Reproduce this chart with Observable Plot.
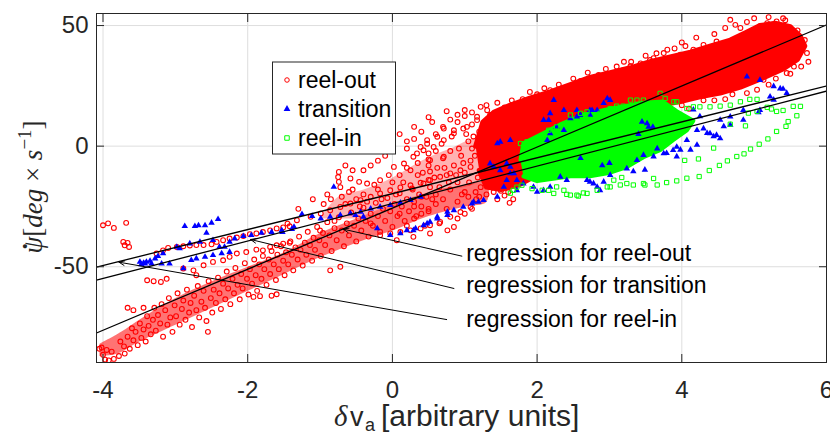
<!DOCTYPE html>
<html><head><meta charset="utf-8">
<script src="https://cdn.jsdelivr.net/npm/d3@7"></script>
<script src="https://cdn.jsdelivr.net/npm/@observablehq/plot@0.6"></script>
<style>body{margin:0;background:#fff}</style>
</head><body><div id="chart"></div><script>
// ---- axis ticks
const xTicks = [-4, -2, 0, 2, 4, 6];
const yTicks = [-50, 0, 50];
const xDomain = [-4.09, 6];
const yDomain = [-89.7, 55];

// ---- series names
const seriesNames = ["reel-out", "transition", "reel-in"];

// ---- reel-out (red circles) scattered points [x, y]
const reelOutPts = [
[-4.05,-84],[-4.0,-86.5],[-3.97,-88.5],[-3.92,-88.8],[-3.85,-88.2],[-3.78,-87],[-3.7,-86],[-3.95,-84.5],[-3.88,-85.2],[-4.02,-83.5],
[-3.76,-81],[-3.71,-83],[-3.66,-79],[-3.63,-84],[-3.6,-75.5],[-3.58,-80.5],[-3.55,-77],[-3.52,-82.5],[-3.49,-73.5],[-3.47,-79.5],[-3.44,-76],[-3.41,-81],[-3.39,-70.5],[-3.37,-74.5],[-3.34,-78],[-3.31,-72],[-3.29,-67],[-3.27,-76.5],[-3.24,-70],[-3.21,-73.5],[-3.19,-65.5],[-3.17,-79],[-3.14,-68],[-3.11,-74],[-3.09,-63],[-3.07,-71],[-3.04,-77],[-3.01,-66],[-2.99,-70.5],[-2.97,-61],[-2.94,-74],[-2.91,-67.5],[-2.89,-64],[-2.86,-72],[-2.84,-59.5],[-2.81,-69],[-2.79,-65],[-2.77,-75],[-2.74,-62],[-2.71,-68],[-2.69,-58],[-2.67,-71],[-2.64,-64.5],[-2.61,-60],[-2.59,-67],[-2.57,-72.5],[-2.54,-56],[-2.51,-63],[-2.49,-69],[-2.47,-59.5],[-2.44,-65],[-2.41,-54.5],[-2.39,-61],[-2.37,-67.5],[-2.34,-57],[-2.31,-63.5],[-2.29,-52],[-2.27,-59],[-2.24,-65.5],[-2.21,-55],[-2.19,-61],[-2.17,-50.5],[-2.14,-57.5],[-2.11,-63.5],[-2.09,-53],[-2.07,-59],[-2.04,-48.5],[-2.01,-55],[-1.99,-61.5],[-1.97,-51],[-1.94,-57],[-1.91,-47],[-1.89,-53.5],[-1.87,-60],[-1.84,-49],[-1.81,-55],[-1.79,-45.5],[-1.77,-51],[-1.74,-57.5],[-1.71,-47],[-1.69,-53],[-1.67,-43.5],[-1.64,-49],[-1.61,-55.5],[-1.59,-45],[-1.57,-51],[-1.54,-41.5],[-1.51,-47.5],[-1.49,-53.5],[-1.47,-44],[-1.44,-49],[-1.41,-39.5],[-1.39,-45],[-1.37,-51.5],[-1.34,-42],[-1.31,-47],[-1.29,-37.5],[-1.27,-43],[-1.24,-49.5],[-1.21,-40],[-1.19,-45],[-1.17,-35.5],[-1.14,-41],[-1.11,-47.5],[-1.09,-38],[-1.07,-43],[-1.04,-33.5],[-1.01,-39],[-0.99,-45.5],[-0.96,-36],[-0.93,-41],[-0.9,-31.5],[-0.87,-37],[-0.84,-43.5],[-0.8,-34],[-0.77,-39],[-0.74,-29.5],[-0.7,-35],[-0.67,-41.5],[-0.63,-32],[-0.6,-37],[-0.57,-27.5],[-0.53,-33],[-0.5,-39.5],[-0.47,-30],[-0.43,-35],[-0.4,-25.5],[-0.37,-31],[-0.33,-37.5],[-0.3,-28],[-0.27,-33],[-0.23,-23.5],[-0.2,-29],[-0.17,-35.5],[-0.13,-26],[-0.1,-31],[-0.07,-21.5],[-0.03,-27],[0.0,-33.5],[0.03,-24],[0.07,-29],[0.1,-19.5],[0.13,-25],[0.17,-31],[0.2,-22],[0.23,-27],[0.27,-17.5],[0.3,-23],[0.33,-29],[0.37,-20],[0.4,-25],[0.43,-15.5],[0.47,-21],[0.5,-27],
[-4.0,-32.8],[-3.93,-32],[-3.85,-33.9],[-3.68,-31.8],[-3.72,-39.7],[-3.66,-40.1],[-3.7,-41.1],[-3.64,-41.8],[-2.55,-77],[-1.67,-62],[-1.6,-61.4],[-1.92,-62.5],[-1.83,-62.2],[-3.66,-67],[-3.58,-68],[-3.44,-67],[-3.39,-55.6],[-3.3,-56],[-3.2,-56.3],[-3.12,-55],[-0.72,-50],[-0.86,-51.5],
[-3.26,-44.5],[-3.17,-43.2],[-3.1,-42.2],[-2.98,-41.8],[-2.89,-41.5],[-2.8,-41.2],[-2.71,-41],[-2.61,-41],[-2.5,-40.7],[-2.43,-39.7],[-2.34,-39],[-2.25,-38.3],[-2.15,-37.9],[-2.06,-37.3],[-1.97,-36.5],[-1.88,-36.2],[-1.79,-35.6],[-1.69,-34.9],[-1.6,-34.1],[-1.51,-33.7],[-1.42,-33.2],
[-2.89,-50.7],[-2.75,-51.5],[-2.61,-49.4],[-2.71,-53.5],[-2.48,-48],[-2.34,-47.3],[-2.25,-45.9],[-2.15,-44.5],[-2.02,-43.9],[-1.88,-42.9],[-1.79,-43.2],[-1.69,-41.8],[-1.6,-41.1],[-1.51,-40.4],[-1.42,-40.1],
[-1.45,-32.1],[-1.32,-30.7],[-1.13,-29.3],[-0.99,-27.9],[-0.86,-26.6],[-0.72,-25.2],[-0.58,-23.8],[-0.44,-22.4],[-0.3,-21],[-0.17,-19.6],[-0.03,-18.3],[0.11,-17.1],[0.25,-16.2],[0.39,-15.2],[0.52,-14.1],[0.66,-12.7],[0.8,-11.3],[0.94,-10],[1.08,-8.6],
[-0.17,-36.9],[-0.03,-36.2],[0.11,-35.6],[0.25,-34.9],[0.39,-34.1],[0.52,-32.8],[0.66,-31.4],[0.8,-29.3],[0.94,-27.3],[1.08,-25.2],[0.06,-39],[0.29,-37.6],[0.52,-36.2],[0.76,-34.9],[0.85,-33.5],
[-0.74,-10.7],[-0.75,-12.8],[-0.74,-14.8],[-0.72,-17],[-0.58,-13.4],[-0.46,-14.8],[-0.35,-15.5],[-0.17,-14.1],[0.02,-8.6],[0.16,-7.2],[0.29,-4.4],[0.43,-1.7],[0.57,-0.3],[0.71,2.5],[0.85,5.3],[1.03,8],[1.17,10.8],
[-0.6,-19],[-0.4,-20],[-0.2,-18],[0.0,-15],[0.1,-12],[0.25,-10],[0.35,-12],[0.5,-8],[0.48,1],[0.5,-3],[0.5,-5.5],[0.52,-10.5],[0.5,-14],[0.52,-17],[0.62,-9],[0.7,-5],[0.75,-12],[0.8,-2],[0.85,-8],[0.9,-15],[0.95,-4],[1.0,-11],[1.05,2],[1.08,-6],[1.1,-1],[1.12,4],[1.18,-13],[0.6,5],[0.7,8],[0.9,10],[1.0,12.5],[0.3,3],[0.2,-1],[-0.1,-4],[-0.3,-8],[-0.5,-22],[-0.9,-20],[-1.1,-22],[-1.3,-26],[-1.0,-35],[-0.8,-31],[-0.3,-32],[0.1,-28],[0.3,-25],[0.6,-20],[0.8,-18],[1.0,-19],
[1.2,-21],[1.3,-20],[1.4,-19],[1.5,-18.5],[1.6,-19],[1.67,-22],[1.1,-26],[1.0,-28],[0.9,-30],
[0.3,-30],[0.4,-28],[0.5,-26],[0.6,-24],[0.7,-22],[0.75,-26],[0.9,-23],[1.05,-21],[1.15,-19],[0.45,-33],[0.65,-32],[0.2,-33],[1.45,-22],[1.55,-20.5],[1.62,-23.5],
[1.22,16.3],[1.31,14.9],[1.17,12.2],[1.35,12.9],[1.45,10.8],[0.71,7.3],[0.85,6.6],[0.98,7.3],[0.48,2.5],[0.62,3.9],[0.39,-0.3],[0.34,-3],[0.52,-5.8],[0.71,-4.4],[1.49,12.2],[1.58,11.5],[1.67,13.6],
[2.18,23.2],[2.27,22.5],[2.41,23.9],[2.55,23.2],[2.78,24.6],[2.97,27.4],[3.19,31.5],[3.43,34.3],[3.56,35.7],[3.75,38.6],[1.8,19.5],[2.0,21.5],[2.3,25.5],[2.6,27],[2.85,29.5],[3.1,33],[3.3,35],[3.65,38.5],[3.9,40.5],[4.05,41.5],
[4.67,52.4],[4.74,50.3],[4.81,49],[5.08,49.7],[5.18,51],[5.31,51.7],[5.43,52.2],[5.5,49],[5.54,46.7],[5.36,45.5],[5.64,41.4],[5.73,38.6],[5.45,30.3],[5.13,27.5],[5.04,23.4],[4.48,43.4],[4.3,42],[4.16,40],[3.98,37.9],[3.61,36.5],[3.29,33.1],
[4.3,19],[4.0,17],[3.7,15.5],[4.7,21.5],[5.3,28],[5.55,33],
[-0.95,-24],[-0.85,-22],[-0.7,-21],[-0.65,-24],[-0.55,-18],[-0.45,-25],[-0.35,-23],[-0.25,-16],[-0.15,-22],[-0.05,-12],[0.05,-20],[0.15,-15],[0.2,-9],[0.28,-18],[0.35,-7],[0.4,-21],[0.42,-11],[0.55,-22],[0.58,-13],[0.6,-2],[0.65,-17],[0.68,1],[0.72,-9],[0.78,-15],[0.82,4],[0.88,-12],[0.92,-1],[0.96,-20],[0.98,-7],[1.02,5],[1.06,-15],[1.1,9],[1.14,-4],[1.16,-22],[1.2,6],[1.22,-17],[1.25,-6],[1.28,-12],[1.32,8],[1.35,-14],[1.38,0],[1.4,5],[1.42,-9],[1.0,15],[1.1,14],[0.9,13],[0.8,11],[0.55,10],[0.4,6],[0.2,2],[0.0,-1],[-0.2,-6],[-0.4,-10],[-0.55,-10],[-0.65,-8],[0.1,5],[0.3,8],[0.5,12],[0.75,14.5],[1.3,17],[1.45,18],[1.55,16],[1.65,19],[1.9,22.5],[2.1,24],[2.5,28],[2.7,30.5],[2.95,32],[3.2,35],[3.5,37.5],[3.8,40],[4.0,43],[4.2,45],[4.45,46.5],[4.6,49],[4.9,51.5],[5.0,53],[5.2,53.5],[5.4,53],[5.6,48],[5.7,44],[5.75,35],[5.65,33],[5.5,30],[5.2,25.5],[4.9,22],[4.6,19.5],[4.45,19],[4.1,15.5],[3.85,15]
];
// dense reel-out cloud outline [x, y]
const reelOutCore = [
[1.15,0],[1.25,10],[1.4,14],[1.63,17],[1.91,20],[2.18,22.5],[2.46,25.5],[2.73,28.5],[3.01,30.5],[3.29,32.5],[3.56,35],[3.84,37],[4.12,39],[4.39,41.5],[4.67,44],[4.88,47],[5.08,50],[5.29,51],[5.5,49.5],[5.64,45.5],[5.7,41.5],[5.6,36],[5.4,32],[5.1,28],[4.81,24.5],[4.53,22],[4.25,20.5],[3.98,18.5],[3.7,17],[3.43,15],[3.15,13],[2.87,11],[2.5,5],[2.2,-5],[2.0,-12],[1.75,-16],[1.5,-18],[1.3,-17],[1.2,-10]
];
// medium-density reel-out band outline (lower left) [x, y]
const reelOutBand = [
[-4.05,-82],[-3.75,-77],[-3.5,-72],[-3.0,-63],[-2.5,-56],[-2.0,-50],[-1.5,-44],[-1.0,-36],[-0.5,-30],[0.0,-24],[0.5,-19],[1.0,-16],[1.3,-15],
[1.3,-23],[1.0,-25],[0.5,-29],[0.0,-35],[-0.5,-40],[-1.0,-46],[-1.5,-53],[-2.0,-60],[-2.5,-67],[-3.0,-74],[-3.5,-81],[-3.8,-86],[-4.05,-87]
];
// medium-density reel-out patch (centre) [x, y]
const reelOutMid = [
[-1.0,-30],[-0.75,-21],[-0.4,-18],[0.0,-13],[0.4,-6],[0.8,-1],[1.2,3],[1.2,-14],[0.5,-19],[0.0,-24],[-0.5,-30]
];

// ---- transition (blue triangles) [x, y]
const transitionPts = [
[-3.49,-48],[-3.44,-48.4],[-3.4,-48],[-3.35,-47.6],[-3.33,-48.7],[-3.47,-49],[-3.42,-48.7],[-3.28,-46.6],[-3.24,-45.6],[-3.17,-44.5],[-3.08,-48.7],[-3.19,-48.7],[-2.89,-50.7],[-2.78,-47.3],[-2.71,-46.6],[-2.59,-45.9],[-2.48,-45.2],[-2.36,-44.5],[-2.25,-43.9],
[-2.87,-33.2],[-2.73,-33.2],[-2.68,-32.9],[-2.59,-32.9],[-2.5,-31.8],[-2.41,-30.3],[-2.57,-36],[-2.8,-40.4],[-2.66,-39.7],[-2.48,-39],[-2.39,-41.8],[-2.32,-41.8],[-2.25,-39.7],[-2.18,-38.3],[-2.06,-37.3],[-1.95,-36.9],[-1.81,-36],[-1.67,-35.6],[-1.53,-34.9],[-1.39,-34.4],[-2.98,-41.8],[-2.94,-42.4],
[-1.25,-28.2],[-1.11,-29],[-0.99,-30],[-0.86,-29.3],[-0.72,-28.6],[-0.58,-27.9],[-0.44,-27.3],[-0.3,-25.9],[-0.17,-25.2],[-0.03,-24.5],[0.11,-23.5],[0.25,-22.4],[0.39,-21],[-0.81,-16.9],[-0.51,-28.6],[-0.4,-29.3],[-0.21,-34.1],[-0.03,-36.9],[0.11,-36.2],[0.2,-34.9],[0.32,-34.1],[0.43,-32.8],[0.52,-31.4],[0.62,-30],[0.76,-28.6],[0.85,-26.6],[0.98,-25.2],[1.1,-23.8],[1.19,-23.1],[-1.52,-35.6],[-1.36,-33.5],
[0.29,-34.9],[0.48,-32.1],[0.62,-29.3],[0.76,-27.3],[1.12,-23.1],
[1.35,-7.2],[1.4,-8.6],[1.49,-10],[1.58,-7.2],[1.63,-11.3],[1.72,-14.1],[1.81,-15.5],[1.95,-16.9],[2.0,-19],[2.09,-18.3],[2.18,-16.9],[2.73,-14.8],[2.83,-16.9],[2.92,-14.8],[3.01,-12],[3.24,-9.3],[3.38,-5.8],[3.47,-3.7],[3.66,-1],[3.75,-3],[3.88,-1.7],[3.93,-0.3],[4.07,2.5],[4.21,6.6],[4.3,7.3],[4.39,5.3],[4.48,4.6],[4.53,3.2],[4.67,12.2],[4.85,14.9],[5.08,14.9],[5.22,20.5],[5.36,23.9],[5.08,27.4],[4.9,28.8],
[2.14,2.5],[2.18,5.3],[2.27,8],[2.37,6.6],[2.46,11.5],[2.55,12.2],[2.73,14.9],[2.83,14.9],[3.01,19.1],[2.09,10.8],[2.18,13.6],[2.37,14.9],[2.55,14.9],
[5.27,24.8],[5.4,23.7],[5.45,22],[5.27,19.2],[5.06,14],[4.85,10.9],[4.53,10.9],[4.67,8.8],[4.58,8.2],[4.35,5.4],[4.44,4],[4.21,0.5],[4.12,-1.5],[3.98,-1.5],[3.79,-2.9],[3.93,-4.3],[3.61,-4.3],[3.49,-9.8],[3.33,-10.5],[4.16,15.1],[4.25,12.3],
[2.16,10.8],[1.63,2.5],[1.49,1.8],[1.45,1.1],[3.52,9.4],[3.54,8],[3.45,10.1],[2.76,14.9],[2.6,12.9],[2.23,19.1],[2.97,19.8],
[1.63,-8.6],[1.68,-11.3],[1.58,-14.1],[1.54,-16.9],[1.72,-18.3],[1.45,-21],[1.26,-22.4],[2.32,-12.7],[2.41,-14.1],[2.69,-14.1],[2.78,-15.5],[2.87,-18.3],
[2.73,13],[2.92,17.8],[2.6,-5],[3.0,-7],[3.4,5],[3.6,8],[2.9,-8]
];

// ---- reel-in (green squares) [x, y]
const reelInPts = [
[3.15,-16.1],[3.33,-16.1],[3.49,-16.1],[3.66,-16.1],[3.79,-15.1],[3.93,-14.4],[4.07,-13.3],[4.24,-12.6],[4.38,-10.1],[4.52,-8],[4.63,-6.1],[4.76,-4.3],[4.86,-3.2],[4.95,-1.2],[5.07,0.8],[5.19,3],[5.31,6.1],[5.44,8.2],[5.47,10.2],[5.59,12.6],[5.54,16.5],[5.64,16.5],[5.4,14.8],[5.31,14.4],[5.24,15.4],[5.18,16.1],[5.04,14.4],[4.92,13.7],[4.88,8.4],[4.67,9.1],[4.44,-0.8],[4.23,-5.3],[4.04,-5.9],
[2.23,-19.6],[2.41,-20],[2.55,-20.3],[2.64,-19.4],[2.83,-18.3],[3.01,-16.9],[1.63,-19.5],[1.67,-18.3],[1.72,-17],[2.27,-16.9],[2.37,-18.3],
[3.29,19.1],[3.38,19.1],[3.47,19.1],[3.7,21.9],[3.77,19.8],[3.89,18.4],[3.93,18.4],[4.07,15.6],[4.16,16.3],[4.25,16.3],[4.39,16.3],[4.53,16.6],[4.67,17],[4.81,18.4],[4.94,19.4],[5.04,19.4],[3.01,15.6],[2.67,12.9],
[1.77,1.1],[1.86,1.8],[2.04,2.5],[2.16,6.6],[2.27,8],[2.46,12.9],[2.6,13.6],[2.69,14.2],[2.87,13.6],[3.1,16.6],[3.19,16.6],
[1.79,-16.2],[1.93,-17.6],[2.07,-18.3],[2.16,-18.3],[2.46,-20.3],[2.57,-20.7],[2.69,-19.6],[2.97,-16.9],[3.06,-14.1],[3.17,-13],[3.24,-15.5],[3.47,-15.5],[3.61,-13.4]
];
// dense reel-in cloud outline [x, y]
const reelInCore = [
[1.77,-5.8],[1.81,1.2],[2.09,5.4],[2.32,9],[2.64,13],[3.01,15.5],[3.47,18],[3.74,18.5],[3.93,14.5],[4.16,10.5],[4.07,6.5],[3.88,2.5],[3.7,-1.7],[3.47,-4.6],[3.24,-8.7],[3.01,-11],[2.73,-12.5],[2.46,-12.5],[2.22,-13.5],[2.0,-14.5],[1.81,-12.5]
];

// ---- regression lines (slope, intercept)
const regNames = ["reel-out", "transition", "reel-in"];
const regSlope = [12.66, 7.77, 7.44];
const regIntercept = [-25.7, -23.8, -19.7];

// ---- annotations
const annTexts = ["regression for reel-out", "regression for transition", "regression for reel-in"];
const annTextX = [1.02, 1.02, 1.02];
const annTextY = [-44.4, -57.7, -71.8];
const annTailX = [0.96, 0.85, 0.75];
const annTailY = [-45.6, -59, -71.9];
const annHeadX = [-0.68, -1.96, -3.78];
const annHeadY = [-34.4, -38.7, -48.1];

// ---- build tables
const regLines = regNames.map((n, i) => ({
  name: n,
  x1: xDomain[0], y1: regIntercept[i] + regSlope[i] * xDomain[0],
  x2: xDomain[1], y2: regIntercept[i] + regSlope[i] * xDomain[1]
}));
const annotations = annTexts.map((t, i) => ({
  text: t, tx: annTextX[i], ty: annTextY[i],
  x1: annTailX[i], y1: annTailY[i], x2: annHeadX[i], y2: annHeadY[i]
}));

const RED = "#ff0000", BLUE = "#0000ff", GREEN = "#00ff00", INK = "#262626";
const FONT = "'Liberation Sans', Arial, Helvetica, sans-serif";
const SERIF = "'Liberation Serif', 'DejaVu Serif', serif";
const fmt = d => String(d);

const plot = Plot.plot({
  width: 830, height: 436,
  marginLeft: 96, marginRight: 4, marginTop: 13, marginBottom: 74,
  x: {domain: xDomain, label: null},
  y: {domain: yDomain, label: null},
  style: {fontFamily: FONT, fontSize: "24px", color: INK, background: "#fff", overflow: "visible"},
  marks: [
    Plot.gridX(xTicks, {stroke: "#dedede", strokeOpacity: 1}),
    Plot.gridY(yTicks, {stroke: "#dedede", strokeOpacity: 1}),
    Plot.line(reelOutBand, {x: d => d[0], y: d => d[1], fill: RED, fillOpacity: 0.55, stroke: "none", curve: "catmull-rom", clip: true}),
    Plot.line(reelOutMid, {x: d => d[0], y: d => d[1], fill: RED, fillOpacity: 0.3, stroke: "none", curve: "catmull-rom", clip: true}),
    Plot.line(reelOutCore, {x: d => d[0], y: d => d[1], fill: RED, stroke: RED, strokeWidth: 5, strokeLinejoin: "round", clip: true}),
    Plot.dot(reelOutPts, {x: d => d[0], y: d => d[1], r: 2.4, stroke: RED, fill: "none", strokeWidth: 1.1, clip: true}),
    Plot.line(reelInCore, {x: d => d[0], y: d => d[1], fill: GREEN, stroke: GREEN, strokeWidth: 4, strokeLinejoin: "round", clip: true}),
    Plot.dot(transitionPts, {x: d => d[0], y: d => d[1], r: 2.4, symbol: "triangle", fill: BLUE, stroke: "none", clip: true}),
    Plot.dot(reelInPts, {x: d => d[0], y: d => d[1], r: 2.4, symbol: "square", stroke: GREEN, fill: "none", strokeWidth: 1, clip: true}),
    Plot.link(regLines, {x1: "x1", y1: "y1", x2: "x2", y2: "y2", stroke: "#000", strokeWidth: 1.3, clip: true}),
    Plot.arrow(annotations, {x1: "x1", y1: "y1", x2: "x2", y2: "y2", stroke: "#000", strokeWidth: 1, headLength: 9, headAngle: 45, bend: 0}),
    Plot.text(annotations, {x: "tx", y: "ty", text: "text", textAnchor: "start", fontSize: 23, fill: "#000", lineAnchor: "middle"}),
    Plot.frame({stroke: INK, strokeWidth: 1}),
    Plot.axisX(xTicks, {anchor: "bottom", tickSize: -8, tickPadding: 26, tickFormat: fmt, fontSize: 24, stroke: INK, fill: INK}),
    Plot.axisX(xTicks, {anchor: "top", tickSize: -8, tickFormat: () => "", stroke: INK}),
    Plot.axisY(yTicks, {anchor: "left", tickSize: -8, tickPadding: 16, tickFormat: fmt, fontSize: 24, stroke: INK, fill: INK}),
    Plot.axisY(yTicks, {anchor: "right", tickSize: -8, tickFormat: () => "", stroke: INK})
  ]
});

const svg = d3.select(plot);
// legend
const lg = svg.append("g").attr("font-family", FONT).attr("font-size", 23).attr("text-anchor", "start");
lg.append("rect").attr("x", 272.5).attr("y", 62).attr("width", 123).attr("height", 92)
  .attr("fill", "#fff").attr("stroke", INK).attr("stroke-width", 1);
const legRowsY = [80, 109, 138];
const sym = [d3.symbolCircle, d3.symbolTriangle, d3.symbolSquare];
const symFill = ["none", BLUE, "none"];
const symStroke = [RED, "none", GREEN];
seriesNames.forEach((n, i) => {
  lg.append("path").attr("d", d3.symbol(sym[i], i === 0 ? 16 : 20)())
    .attr("transform", `translate(287,${legRowsY[i]})`)
    .attr("fill", symFill[i]).attr("stroke", symStroke[i]).attr("stroke-width", 1);
  lg.append("text").attr("x", 298).attr("y", legRowsY[i]).attr("dy", "0.35em")
    .attr("text-anchor", "start").attr("fill", "#000").text(n);
});
// x label
const xl = svg.append("g").attr("fill", INK).attr("font-family", FONT).attr("text-anchor", "start");
xl.append("text").attr("x", 334).attr("y", 426).attr("font-family", SERIF).attr("font-style", "italic").attr("font-size", 29).text("δ");
xl.append("text").attr("x", 350).attr("y", 426).attr("font-size", 27).text("v");
xl.append("text").attr("x", 365).attr("y", 431).attr("font-size", 18).text("a");
xl.append("text").attr("x", 381).attr("y", 426).attr("font-size", 30).text("[arbitrary units]");
// y label
const yl = svg.append("text").attr("transform", "translate(42,187) rotate(-90)")
  .attr("text-anchor", "middle").attr("fill", INK)
  .attr("font-family", SERIF).attr("font-size", 27);
yl.append("tspan").attr("font-style", "italic").text("ψ");
yl.append("tspan").attr("dx", -14).attr("font-weight", "bold").text("˙");
yl.append("tspan").attr("dx", 5).text("[");
yl.append("tspan").attr("font-style", "italic").text("deg");
yl.append("tspan").text(" × ");
yl.append("tspan").attr("font-style", "italic").text("s");
yl.append("tspan").attr("font-size", 19).attr("dy", -11).text("−1");
yl.append("tspan").attr("dy", 11).text("]");

document.getElementById("chart").appendChild(plot);
</script></body></html>
